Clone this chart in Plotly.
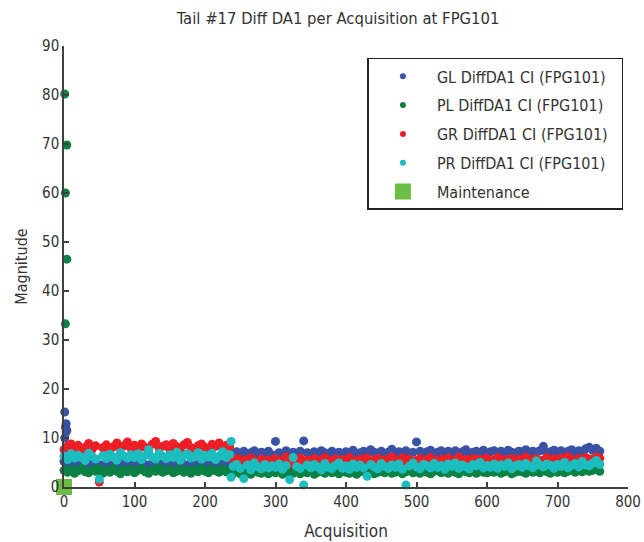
import plotly.graph_objects as go

# acquisition index, sampled every 5 acquisitions
acq = list(range(0, 761, 5))

gl_y = [5.2, 4.6, 4.4, 4.8, 4.3, 4.7, 4.5, 4.2, 4.9, 4.4,
        4.6, 4.3, 4.8, 4.5, 4.1, 4.7, 4.4, 4.9, 4.3, 4.6,
        4.5, 4.8, 4.2, 4.6, 4.4, 4.9, 4.3, 4.7, 4.5, 4.2,
        4.7, 4.4, 4.8, 4.3, 4.6, 4.5, 4.9, 4.2, 4.6, 4.4,
        4.5, 4.8, 4.3, 4.6, 4.4, 4.7, 4.5, 4.8, 6.9, 7.2,
        6.8, 7.3, 6.6, 7.0, 7.4, 6.7, 7.1, 6.9, 7.3, 6.6,
        9.3, 7.0, 6.8, 7.4, 6.7, 7.1, 6.9, 7.3, 9.4, 7.0,
        6.8, 7.2, 6.6, 7.4, 7.0, 6.7, 7.3, 6.9, 7.1, 6.8,
        7.2, 6.9, 7.5, 6.7, 7.0, 7.3, 6.8, 7.6, 7.1, 6.9,
        7.3, 6.8, 7.1, 7.7, 6.9, 7.2, 7.0, 7.4, 6.8, 7.1,
        9.2, 7.3, 6.9, 7.2, 7.5, 6.8, 7.1, 7.4, 6.9, 7.3,
        7.0, 7.4, 6.8, 7.2, 7.6, 6.9, 7.1, 7.3, 7.0, 7.5,
        6.9, 7.2, 7.4, 7.0, 7.3, 6.8, 7.5, 7.1, 6.9, 7.3,
        7.2, 7.6, 7.0, 7.3, 7.1, 7.4, 8.3, 7.0, 7.2, 7.5,
        7.1, 7.4, 6.9, 7.3, 7.6, 7.0, 7.4, 7.2, 7.8, 8.1,
        7.5, 7.9, 7.3]

pl_y = [3.4, 3.0, 3.6, 2.8, 3.3, 3.9, 3.1, 2.9, 3.5, 3.2,
        3.7, 2.8, 3.3, 3.0, 3.8, 3.2, 2.7, 3.5, 3.1, 3.6,
        2.9, 3.4, 3.8, 3.1, 2.8, 3.5, 3.2, 3.9, 3.0, 3.3,
        3.6, 2.9, 3.2, 3.7, 3.0, 3.4, 2.8, 3.5, 3.1, 3.8,
        3.2, 2.9, 3.6, 3.3, 3.0, 3.7, 3.1, 3.4, 2.8, 3.1,
        2.7, 3.2, 2.9, 2.6, 3.3, 3.0, 2.8, 3.4, 2.7, 3.1,
        2.9, 3.3, 2.6, 3.0, 3.2, 2.8, 3.4, 2.7, 3.1, 2.9,
        3.3, 2.6, 3.0, 3.2, 2.8, 3.5, 2.9, 3.1, 2.7, 3.3,
        3.0, 2.8, 3.4, 2.6, 3.1, 3.2, 2.9, 3.3, 2.7, 3.0,
        3.2, 2.9, 3.5, 2.8, 3.0, 3.3, 2.7, 3.1, 3.4, 2.9,
        3.1, 2.8, 3.3, 3.0, 2.7, 3.2, 3.4, 2.9, 3.1, 2.8,
        3.3, 3.0, 2.7, 3.4, 3.1, 2.9, 3.2, 2.8, 3.5, 3.0,
        2.9, 3.2, 3.0, 3.4, 2.8, 3.1, 3.3, 2.7, 3.0, 3.2,
        3.1, 2.8, 3.4, 3.0, 3.2, 2.9, 3.5, 3.1, 2.8, 3.3,
        3.0, 3.3, 2.9, 3.2, 3.6, 3.0, 3.4, 3.1, 3.5, 3.2,
        3.4, 3.7, 3.2]

gr_y = [7.6, 8.3, 8.8, 7.9, 8.5, 7.4, 8.1, 8.9, 7.7, 8.4,
        1.0, 8.0, 8.6, 7.5, 8.2, 9.0, 7.8, 8.4, 9.2, 7.9,
        8.5, 7.6, 8.8, 8.1, 7.4, 8.7, 9.3, 7.9, 8.3, 8.6,
        7.7, 8.9, 8.2, 7.5, 8.6, 9.1, 8.0, 7.8, 8.4, 8.8,
        8.1, 7.6, 8.7, 8.3, 9.0, 7.9, 8.5, 8.2, 5.4, 5.8,
        5.1, 5.6, 4.8, 5.9, 5.3, 5.0, 5.7, 4.9, 5.5, 5.2,
        5.8, 5.0, 5.4, 6.1, 4.7, 5.6, 5.2, 5.9, 5.0, 5.5,
        5.3, 5.8, 4.9, 5.5, 6.0, 5.1, 5.4, 5.7, 4.8, 5.6,
        5.2, 6.0, 5.4, 5.0, 5.7, 5.3, 5.9, 4.9, 5.5, 5.8,
        5.1, 5.6, 5.3, 6.1, 4.8, 5.5, 5.9, 5.2, 5.7, 5.0,
        5.4, 5.8, 5.1, 5.6, 6.0, 5.3, 4.9, 5.7, 5.4, 5.9,
        5.2, 5.5, 6.1, 5.0, 5.6, 5.3, 5.8, 5.1, 5.7, 5.4,
        5.9, 5.2, 5.5, 6.0, 4.9, 5.6, 5.3, 5.8, 5.1, 5.7,
        5.4, 6.1, 5.0, 5.6, 5.8, 5.3, 5.5, 6.0, 5.2, 5.7,
        5.5, 5.9, 5.3, 6.2, 5.6, 5.0, 5.8, 5.4, 6.0, 5.7,
        5.6, 6.1, 5.9]

pr_y = [6.3, 5.6, 6.8, 5.9, 6.5, 6.0, 5.4, 6.9, 6.2, 5.7,
        1.6, 6.4, 5.8, 6.7, 6.1, 5.5, 7.0, 6.3, 5.9, 6.6,
        6.0, 6.8, 5.6, 6.4, 7.6, 6.1, 5.7, 6.9, 6.3, 5.8,
        6.6, 6.0, 7.1, 5.5, 6.4, 6.8, 5.9, 6.2, 7.0, 5.7,
        6.5, 6.1, 6.9, 5.6, 6.3, 7.2, 6.0, 6.6, 4.2, 4.6,
        3.8, 1.7, 4.5, 3.5, 4.9, 4.1, 3.7, 4.6, 3.9, 4.3,
        4.0, 4.7, 3.6, 4.4, 1.5, 6.0, 4.2, 3.8, 0.4, 4.5,
        3.9, 4.6, 4.1, 3.5, 4.8, 4.0, 3.7, 4.4, 4.9, 3.8,
        4.3, 3.6, 4.7, 4.0, 4.5, 3.9, 2.2, 4.6, 4.1, 3.7,
        4.8, 4.2, 3.8, 4.5, 4.0, 4.7, 3.6, 0.4, 4.3, 4.9,
        4.1, 3.7, 4.6, 4.3, 3.9, 4.8, 4.0, 4.4, 3.6, 4.7,
        4.2, 4.9, 3.8, 4.5, 4.1, 3.7, 4.6, 4.3, 5.0, 3.9,
        4.4, 4.0, 4.7, 3.8, 4.5, 4.2, 4.9, 3.7, 4.3, 4.6,
        4.0, 4.8, 4.3, 3.9, 5.3, 4.5, 4.1, 4.7, 4.4, 3.8,
        4.6, 4.2, 5.0, 3.9, 4.4, 4.8, 4.1, 5.2, 4.5, 4.3,
        4.9, 5.4, 4.6]

# early outliers right after maintenance
gl_spike_x = [1, 3, 2, 4, 1, 3]
gl_spike_y = [15.3, 12.9, 12.2, 11.6, 10.0, 11.2]
pl_spike_x = [1, 4, 2, 4, 2]
pl_spike_y = [80.2, 69.8, 60.0, 46.5, 33.3]
pr_spike_x = [237, 237]
pr_spike_y = [9.3, 2.0]

maint_x = [0]
maint_y = [0]

names = ['GL DiffDA1 CI (FPG101)', 'PL DiffDA1 CI (FPG101)',
         'GR DiffDA1 CI (FPG101)', 'PR DiffDA1 CI (FPG101)']
colors = ['#3a52a4', '#0b8244', '#ec1f26', '#1bbdbf']

FONT = 'Liberation Sans Narrow, Arial Narrow, DejaVu Sans Condensed, Liberation Sans, Arial'
PAD = '\u00a0\u00a0'  # widens the legend box a little

fig = go.Figure()
series = [(acq + gl_spike_x, gl_y + gl_spike_y),
          (acq + pl_spike_x, pl_y + pl_spike_y),
          (acq, gr_y),
          (acq + pr_spike_x, pr_y + pr_spike_y)]
for (xs, ys), name, col in zip(series, names, colors):
    fig.add_trace(go.Scatter(x=xs, y=ys, mode='markers', name=name, showlegend=False,
                             marker=dict(color=col, size=9), cliponaxis=False))

fig.add_trace(go.Scatter(x=maint_x, y=maint_y, mode='markers', name='Maintenance', showlegend=False,
                         marker=dict(color='#6cbd45', size=16, symbol='square'), cliponaxis=False))

# legend entries with the smaller legend symbols
for i, (name, col) in enumerate(zip(names, colors)):
    fig.add_trace(go.Scatter(x=[None], y=[None], mode='markers', name=name + PAD, legendgroup='g%d' % i,
                             marker=dict(color=col, size=6)))
fig.add_trace(go.Scatter(x=[None], y=[None], mode='markers', name='Maintenance', legendgroup='g9',
                         marker=dict(color='#6cbd45', size=16, symbol='square')))

axis_common = dict(showline=True, linecolor='#404040', linewidth=1.5, ticks='inside', ticklen=5,
                   tickcolor='#404040', tickwidth=1.5, showgrid=False, zeroline=False,
                   automargin=False,
                   tickfont=dict(size=15, color='#333333', family=FONT))

fig.update_layout(
    width=644, height=542,
    paper_bgcolor='white', plot_bgcolor='white',
    margin=dict(l=64, r=16, t=46, b=55),
    font=dict(family=FONT, color='#333333'),
    title=dict(text='Tail #17 Diff DA1 per Acquisition at FPG101', x=0.525, xanchor='center',
               y=0.967, yanchor='middle', font=dict(size=16.5, color='#333333', family=FONT)),
    xaxis=dict(range=[0, 800], tickvals=list(range(0, 801, 100)),
               title=dict(text='Acquisition', font=dict(size=17), standoff=15), **axis_common),
    yaxis=dict(range=[0, 90], tickvals=list(range(0, 91, 10)),
               title=dict(text='Magnitude', font=dict(size=16), standoff=10), **axis_common),
    legend=dict(x=0.538, y=0.973, xanchor='left', yanchor='top', bgcolor='white',
                bordercolor='#222222', borderwidth=1.5, font=dict(size=16, color='#333333'),
                itemwidth=58, tracegroupgap=5),
)

fig.write_html("out.html", config={'displayModeBar': False},
               post_script="document.body.style.margin='0px';")
